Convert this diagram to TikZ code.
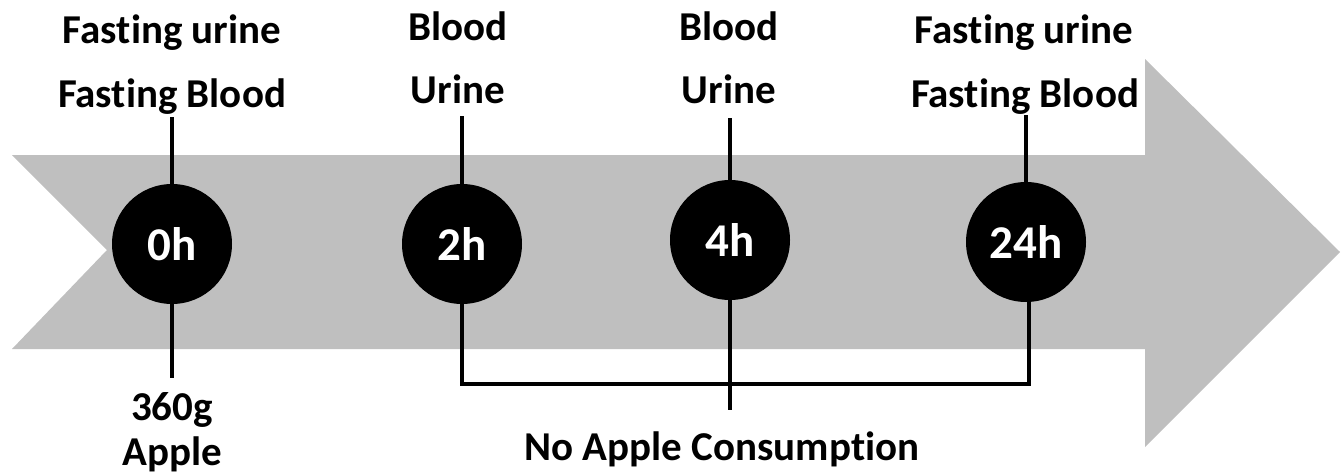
\documentclass[tikz,border=0pt]{standalone}
\usepackage{fontspec}
\setmainfont{Carlito}[Ligatures=NoCommon]
\definecolor{arrowgray}{RGB}{191,191,191}
\begin{document}
\begin{tikzpicture}[x=1pt,y=-1pt,
  lbl/.style={font=\fontsize{41}{44}\selectfont\bfseries, anchor=base, inner sep=0pt},
  tnode/.style={circle, fill=black, minimum size=120pt, inner sep=0pt, text=white, font=\fontsize{47}{50}\selectfont\bfseries},
  conn/.style={line width=4pt}]
\useasboundingbox (0,0) rectangle (1342,474);
% arrow
\fill[arrowgray] (12,155) -- (1145,155) -- (1145,59) -- (1340,252) -- (1145,447) -- (1145,349) -- (12,349) -- (107,250) -- cycle;
% circles
\node[tnode] (c0) at (172,244) {0h};
\node[tnode] (c2) at (462,244) {2h};
\node[tnode] (c4) at (730,240) {4h};
\node[tnode] (c24) at (1026,242) {24h};
% labels
\node[lbl] (fu0) at (172,43) {Fasting urine};
\node[lbl] (fb0) at (172,107) {Fasting Blood};
\node[lbl] (b2) at (458,40) {Blood};
\node[lbl] (u2) at (458,103) {Urine};
\node[lbl] (b4) at (729,40) {Blood};
\node[lbl] (u4) at (729,103) {Urine};
\node[lbl] (fu24) at (1024,43) {Fasting urine};
\node[lbl] (fb24) at (1025,107) {Fasting Blood};
\node[lbl] (g360) at (172,420) {360g};
\node[lbl] (ap) at (172,465) {Apple};
\node[lbl] (nac) at (722,460) {No Apple Consumption};
% coordinates
\coordinate (t0) at (172,117);
\coordinate (t2) at (462,116);
\coordinate (t4) at (730,118);
\coordinate (t24) at (1026,115);
\coordinate (s0) at (172,378);
\coordinate (s2) at (462,384);
\coordinate (s24) at (1029,384);
\coordinate (s4) at (730,410);
% connectors
\draw[conn] (t0) -- (c0.north);
\draw[conn] (c0.south) -- (s0);
\draw[conn] (t2) -- (c2.north);
\draw[conn] (t4) -- (c4.north);
\draw[conn] (t24) -- (c24.north);
\draw[conn] (c2.south) -- (s2) -- (s24) -- (c24.south -| s24);
\draw[conn] (c4.south) -- (s4);
\end{tikzpicture}
\end{document}
